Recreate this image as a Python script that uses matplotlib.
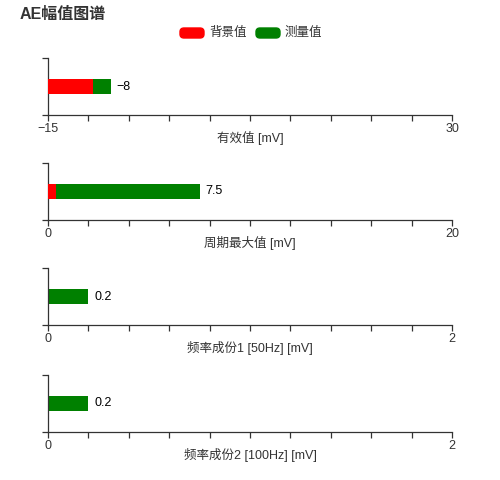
import numpy as np
import matplotlib.pyplot as plt
from matplotlib.patches import FancyBboxPatch

plt.rcParams['font.family'] = ['Liberation Sans', 'Noto Sans CJK SC', 'DejaVu Sans']
plt.rcParams['axes.unicode_minus'] = True

title = 'AE幅值图谱'
series_names = ['背景值', '测量值']
axis_labels = ['有效值 [mV]', '周期最大值 [mV]', '频率成份1 [50Hz] [mV]', '频率成份2 [100Hz] [mV]']
background = [-10, 0.4, 0, 0]
measured = [-8, 7.5, 0.2, 0.2]
x_ranges = [(-15, 30), (0, 20), (0, 2), (0, 2)]
value_labels = ['\u22128', '7.5', '0.2', '0.2']

red = '#ff0000'
green = '#008000'
txt = '#333333'

fig = plt.figure(figsize=(5, 4.8), dpi=100)
bottoms = [1 - 115 / 480, 1 - 220 / 480, 1 - 325 / 480, 1 - 432 / 480]
h = 57 / 480

for i in range(4):
    ax = fig.add_axes([48 / 500, bottoms[i], 404 / 500, h])
    lo, hi = x_ranges[i]
    ax.barh(0, measured[i] - lo, left=lo, height=0.28, color=green, zorder=2)
    if background[i] != 0:
        ax.barh(0, background[i] - lo, left=lo, height=0.28, color=red, zorder=3)
    ax.text(measured[i] + (hi - lo) * 0.014, 0, value_labels[i], va='center', ha='left',
            fontsize=9, color='#000000')
    ax.set_xlim(lo, hi)
    ax.set_ylim(-0.5, 0.5)
    ticks = np.linspace(lo, hi, 11)
    ax.set_xticks(ticks)
    lbls = [''] * 11
    lbls[0] = str(lo).replace('-', '\u2212')
    lbls[-1] = str(hi)
    ax.set_xticklabels(lbls)
    ax.set_yticks([-0.5, 0.5])
    ax.set_yticklabels([])
    ax.spines['top'].set_visible(False)
    ax.spines['right'].set_visible(False)
    for s in ['left', 'bottom']:
        ax.spines[s].set_color(txt)
        ax.spines[s].set_linewidth(0.9)
    ax.tick_params(axis='both', colors=txt, labelcolor=txt, labelsize=9, length=4, width=0.9, pad=2)
    ax.set_xlabel(axis_labels[i], fontsize=9, color=txt, labelpad=-3)

fig.text(20 / 500, 1 - 14 / 480, title, fontsize=11.5, fontweight='bold', color=txt, va='center', ha='left')

# legend
leg_y = 1 - 33 / 480
items = [(180, red, series_names[0]), (256, green, series_names[1])]
for x0, c, name in items:
    fig.patches.append(FancyBboxPatch((x0 / 500, leg_y - 5 / 480), 24 / 500, 10 / 480,
                                      boxstyle='round,pad=0,rounding_size=0.008',
                                      transform=fig.transFigure, color=c))
    fig.text((x0 + 29) / 500, leg_y, name, fontsize=9, color=txt, va='center', ha='left')

fig.savefig('out.png', dpi=100)
